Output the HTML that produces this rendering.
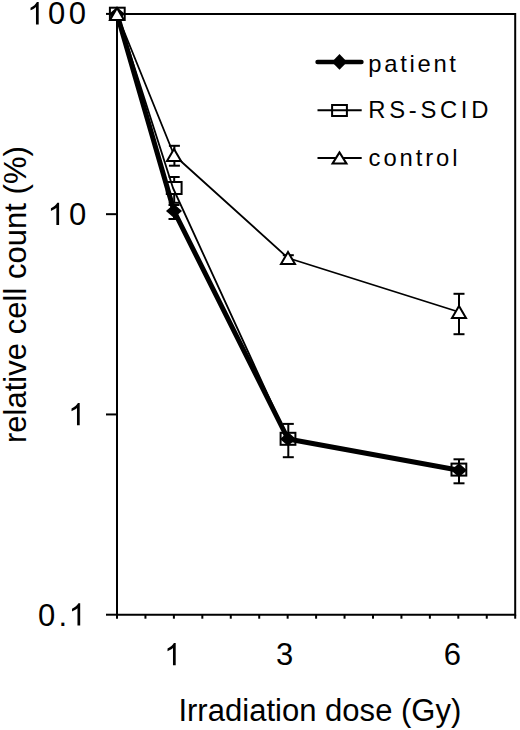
<!DOCTYPE html>
<html><head><meta charset="utf-8"><style>
html,body{margin:0;padding:0;background:#fff;}
svg{display:block;font-family:"Liberation Sans",sans-serif;}
</style></head><body>
<svg width="520" height="730" viewBox="0 0 520 730">
<path d="M117,13.9 H515.2 V614.7 H117 Z" fill="none" stroke="#000" stroke-width="2"/>
<line x1="106" y1="13.9" x2="117" y2="13.9" stroke="#000" stroke-width="2"/>
<line x1="106" y1="214.17" x2="117" y2="214.17" stroke="#000" stroke-width="2"/>
<line x1="106" y1="414.44" x2="117" y2="414.44" stroke="#000" stroke-width="2"/>
<line x1="106" y1="614.71" x2="117" y2="614.71" stroke="#000" stroke-width="2"/>
<line x1="117" y1="614.7" x2="117" y2="618.7" stroke="#000" stroke-width="2"/>
<line x1="145.443" y1="614.7" x2="145.443" y2="618.7" stroke="#000" stroke-width="2"/>
<line x1="173.886" y1="614.7" x2="173.886" y2="618.7" stroke="#000" stroke-width="2"/>
<line x1="202.329" y1="614.7" x2="202.329" y2="618.7" stroke="#000" stroke-width="2"/>
<line x1="230.772" y1="614.7" x2="230.772" y2="618.7" stroke="#000" stroke-width="2"/>
<line x1="259.215" y1="614.7" x2="259.215" y2="618.7" stroke="#000" stroke-width="2"/>
<line x1="287.658" y1="614.7" x2="287.658" y2="618.7" stroke="#000" stroke-width="2"/>
<line x1="316.101" y1="614.7" x2="316.101" y2="618.7" stroke="#000" stroke-width="2"/>
<line x1="344.544" y1="614.7" x2="344.544" y2="618.7" stroke="#000" stroke-width="2"/>
<line x1="372.987" y1="614.7" x2="372.987" y2="618.7" stroke="#000" stroke-width="2"/>
<line x1="401.43" y1="614.7" x2="401.43" y2="618.7" stroke="#000" stroke-width="2"/>
<line x1="429.873" y1="614.7" x2="429.873" y2="618.7" stroke="#000" stroke-width="2"/>
<line x1="458.316" y1="614.7" x2="458.316" y2="618.7" stroke="#000" stroke-width="2"/>
<line x1="486.759" y1="614.7" x2="486.759" y2="618.7" stroke="#000" stroke-width="2"/>
<line x1="515.202" y1="614.7" x2="515.202" y2="618.7" stroke="#000" stroke-width="2"/>
<line x1="174" y1="205" x2="174" y2="219" stroke="#000" stroke-width="2"/><line x1="168.5" y1="205" x2="179.5" y2="205" stroke="#000" stroke-width="2"/><line x1="168.5" y1="219" x2="179.5" y2="219" stroke="#000" stroke-width="2"/>
<line x1="174.2" y1="177" x2="174.2" y2="202.8" stroke="#000" stroke-width="2"/><line x1="168.7" y1="177" x2="179.7" y2="177" stroke="#000" stroke-width="2"/><line x1="168.7" y1="202.8" x2="179.7" y2="202.8" stroke="#000" stroke-width="2"/>
<line x1="288.3" y1="423.9" x2="288.3" y2="457.2" stroke="#000" stroke-width="2"/><line x1="282.8" y1="423.9" x2="293.8" y2="423.9" stroke="#000" stroke-width="2"/><line x1="282.8" y1="457.2" x2="293.8" y2="457.2" stroke="#000" stroke-width="2"/>
<line x1="459" y1="459.3" x2="459" y2="483.3" stroke="#000" stroke-width="2"/><line x1="453.5" y1="459.3" x2="464.5" y2="459.3" stroke="#000" stroke-width="2"/><line x1="453.5" y1="483.3" x2="464.5" y2="483.3" stroke="#000" stroke-width="2"/>
<line x1="174.4" y1="145.8" x2="174.4" y2="165.7" stroke="#000" stroke-width="2"/><line x1="168.9" y1="145.8" x2="179.9" y2="145.8" stroke="#000" stroke-width="2"/><line x1="168.9" y1="165.7" x2="179.9" y2="165.7" stroke="#000" stroke-width="2"/>
<line x1="288.3" y1="255.2" x2="288.3" y2="262" stroke="#000" stroke-width="2"/><line x1="282.8" y1="255.2" x2="293.8" y2="255.2" stroke="#000" stroke-width="2"/><line x1="282.8" y1="262" x2="293.8" y2="262" stroke="#000" stroke-width="2"/>
<line x1="459" y1="293.8" x2="459" y2="334.2" stroke="#000" stroke-width="2"/><line x1="453.5" y1="293.8" x2="464.5" y2="293.8" stroke="#000" stroke-width="2"/><line x1="453.5" y1="334.2" x2="464.5" y2="334.2" stroke="#000" stroke-width="2"/>
<rect x="109.9" y="7.7" width="14.8" height="12" fill="#fff" stroke="#000" stroke-width="2"/>
<rect x="166.8" y="182" width="14.8" height="12" fill="#fff" stroke="#000" stroke-width="2"/>
<rect x="280.6" y="432.8" width="14.8" height="12" fill="#fff" stroke="#000" stroke-width="2"/>
<rect x="451.5" y="463.6" width="14.8" height="12" fill="#fff" stroke="#000" stroke-width="2"/>
<polyline fill="none" stroke="#000" stroke-width="1.8" stroke-linejoin="round" points="117,14 174,155 288,258 459,312"/>
<polyline fill="none" stroke="#000" stroke-width="1.8" stroke-linejoin="round" points="117.3,13.7 173,188 288,438.8 458.9,469.6"/>
<polyline fill="none" stroke="#000" stroke-width="5" stroke-linejoin="round" points="117,14 174,211 288,439 459,470.3"/>
<polygon points="117,7 125,14 117,21 109,14" fill="#000"/>
<polygon points="174,204 182,211 174,218 166,211" fill="#000"/>
<polygon points="288,432 296,439 288,446 280,439" fill="#000"/>
<polygon points="459,463.3 467,470.3 459,477.3 451,470.3" fill="#000"/>
<polygon points="117,8 110,20 124,20" fill="#fff" stroke="#000" stroke-width="2" stroke-linejoin="miter"/>
<polygon points="174,149 167,161 181,161" fill="#fff" stroke="#000" stroke-width="2" stroke-linejoin="miter"/>
<polygon points="288,252 281,264 295,264" fill="#fff" stroke="#000" stroke-width="2" stroke-linejoin="miter"/>
<polygon points="459,306 452,318 466,318" fill="#fff" stroke="#000" stroke-width="2" stroke-linejoin="miter"/>
<line x1="317.6" y1="62" x2="361.4" y2="62" stroke="#000" stroke-width="4.6" stroke-linecap="round"/>
<polygon points="339.5,54.1 347.1,61.9 339.5,69.7 331.9,61.9" fill="#000"/>
<line x1="317.5" y1="110.3" x2="361.7" y2="110.3" stroke="#000" stroke-width="2"/>
<rect x="332.1" y="105" width="14.8" height="11" fill="none" stroke="#000" stroke-width="2"/>
<line x1="317.5" y1="157.9" x2="361.7" y2="157.9" stroke="#000" stroke-width="2"/>
<polygon points="339.5,152.4 332.5,163.6 346.5,163.6" fill="#fff" stroke="#000" stroke-width="2" stroke-linejoin="miter"/>
<g font-size="31" fill="#000">
<path transform="translate(27.15,24.40) scale(0.015137,-0.015137)" d="M763,0 L583,0 L583,1147 Q518,1085 415,1024.5 Q312,964 223,931 L223,1105 Q373,1176 480,1271.5 Q587,1367 646,1472 L763,1472 Z"/>
<path transform="translate(47.55,225.00) scale(0.015137,-0.015137)" d="M763,0 L583,0 L583,1147 Q518,1085 415,1024.5 Q312,964 223,931 L223,1105 Q373,1176 480,1271.5 Q587,1367 646,1472 L763,1472 Z"/>
<path transform="translate(68.15,425.30) scale(0.015137,-0.015137)" d="M763,0 L583,0 L583,1147 Q518,1085 415,1024.5 Q312,964 223,931 L223,1105 Q373,1176 480,1271.5 Q587,1367 646,1472 L763,1472 Z"/>
<path transform="translate(68.65,625.50) scale(0.015137,-0.015137)" d="M763,0 L583,0 L583,1147 Q518,1085 415,1024.5 Q312,964 223,931 L223,1105 Q373,1176 480,1271.5 Q587,1367 646,1472 L763,1472 Z"/>
<path transform="translate(164.15,665.30) scale(0.015137,-0.015137)" d="M763,0 L583,0 L583,1147 Q518,1085 415,1024.5 Q312,964 223,931 L223,1105 Q373,1176 480,1271.5 Q587,1367 646,1472 L763,1472 Z"/>
<text x="48.1" y="24.4">0</text><text x="68.8" y="24.4">0</text>
<text x="69" y="225">0</text>
<text x="38.1" y="625.5">0</text><text x="58.5" y="625.5">.</text>
</g>
<g font-size="31" fill="#000" text-anchor="middle">
<text x="284.5" y="665.3">3</text>
<text x="452.3" y="665.3">6</text>
</g>
<text x="178.4" y="720.5" font-size="31" letter-spacing="0.02">Irradiation dose (Gy)</text>
<text transform="translate(25.6,443.1) rotate(-90)" font-size="31" letter-spacing="0.03">relative cell count (%)</text>
<g font-size="23.8">
<text x="368.3" y="71.9" letter-spacing="2.7">patient</text>
<text x="368.3" y="118.2" letter-spacing="3.7">RS-SCID</text>
<text x="368.6" y="166.3" letter-spacing="2.9">control</text>
</g>
</svg>
</body></html>
